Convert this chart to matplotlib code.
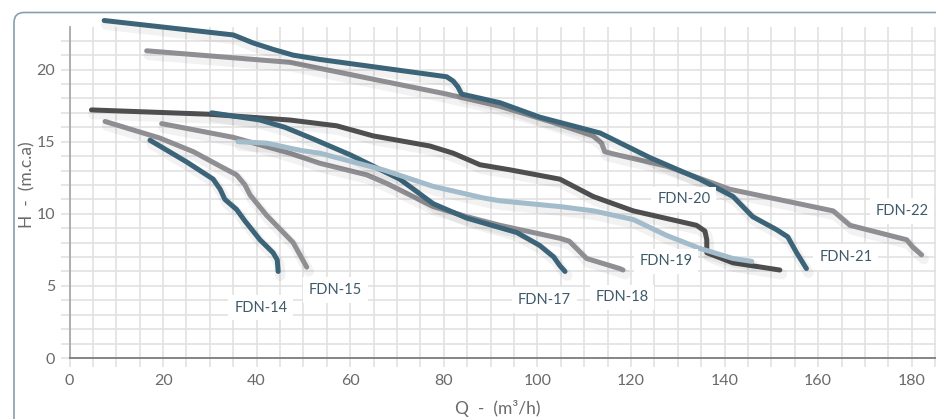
import matplotlib
matplotlib.use("Agg")
import matplotlib.pyplot as plt
from matplotlib import patheffects as pe
from matplotlib.patches import FancyBboxPatch
from matplotlib.transforms import IdentityTransform
from matplotlib.ticker import MultipleLocator

# ---------------- data ----------------
q_fdn14 = [17.2, 25.0, 30.7, 32.2, 33.2, 35.7, 37.5, 40.7, 43.5, 44.4, 44.6]
h_fdn14 = [15.1, 13.6, 12.4, 11.7, 11.0, 10.3, 9.5, 8.2, 7.3, 6.8, 6.0]

q_fdn15 = [7.6, 19.3, 26.5, 32.2, 35.7, 37.5, 38.6, 42.1, 47.8, 50.7]
h_fdn15 = [16.4, 15.25, 14.3, 13.3, 12.7, 12.0, 11.3, 9.9, 8.0, 6.3]

q_fdn17 = [30.4, 40.7, 46.0, 52.0, 59.9, 70.6, 77.7, 84.9, 95.6, 100.5, 103.5, 104.8, 105.9]
h_fdn17 = [17.0, 16.5, 16.0, 15.2, 14.1, 12.4, 10.7, 9.7, 8.7, 7.8, 7.0, 6.4, 6.0]

q_fdn18 = [19.7, 35.0, 47.1, 53.5, 63.5, 67.8, 77.7, 84.9, 92.0, 104.8, 106.8, 110.5, 117.6, 118.3]
h_fdn18 = [16.25, 15.3, 14.2, 13.5, 12.7, 12.1, 10.5, 9.8, 9.2, 8.3, 8.1, 6.9, 6.2, 6.1]

q_fdn19 = [36.0, 42.1, 49.3, 53.5, 67.0, 77.7, 88.4, 92.0, 104.8, 112.0, 120.5, 127.6, 134.7, 141.8, 145.8]
h_fdn19 = [15.0, 14.9, 14.4, 14.2, 13.05, 11.9, 11.1, 10.9, 10.5, 10.2, 9.6, 8.5, 7.6, 6.9, 6.7]

q_fdn20 = [4.7, 30.0, 47.1, 57.1, 64.9, 77.0, 82.0, 87.7, 94.1, 104.8, 111.9, 120.5, 134.0, 135.8, 136.2, 136.2, 141.8, 151.8]
h_fdn20 = [17.2, 16.9, 16.5, 16.1, 15.4, 14.7, 14.2, 13.4, 13.05, 12.4, 11.2, 10.2, 9.2, 8.8, 8.2, 7.3, 6.6, 6.1]

q_fdn21 = [7.4, 35.0, 39.2, 43.5, 47.8, 53.5, 80.6, 82.0, 83.0, 83.8, 92.0, 100.5, 113.4, 124.0, 134.7, 141.8, 146.0, 151.1, 153.5, 155.4, 157.5]
h_fdn21 = [23.4, 22.4, 21.85, 21.4, 21.0, 20.7, 19.5, 19.2, 18.8, 18.3, 17.7, 16.7, 15.6, 13.9, 12.4, 11.2, 9.8, 8.9, 8.4, 7.3, 6.2]

q_fdn22 = [16.5, 47.1, 80.6, 92.0, 102.7, 111.9, 113.7, 114.4, 116.9, 127.6, 141.1, 163.2, 166.8, 178.9, 180.2, 182.1]
h_fdn22 = [21.3, 20.5, 18.3, 17.45, 16.4, 15.4, 14.9, 14.3, 14.1, 13.3, 11.7, 10.2, 9.2, 8.2, 7.7, 7.15]

series_names = ["FDN-14", "FDN-15", "FDN-17", "FDN-18", "FDN-19", "FDN-20", "FDN-21", "FDN-22"]

x_major = [0, 20, 40, 60, 80, 100, 120, 140, 160, 180]
y_major = [0, 5, 10, 15, 20]

# ---------------- styles / positions ----------------
TEAL = "#3b6479"
GRAY = "#8f8f93"
DARK = "#4e4e50"
LIGHT = "#a3bccb"
TXT = "#3e5a68"

curves = {
    "FDN-22": (q_fdn22, h_fdn22, GRAY, 2),
    "FDN-21": (q_fdn21, h_fdn21, TEAL, 3),
    "FDN-20": (q_fdn20, h_fdn20, DARK, 2),
    "FDN-18": (q_fdn18, h_fdn18, GRAY, 3),
    "FDN-17": (q_fdn17, h_fdn17, TEAL, 4),
    "FDN-19": (q_fdn19, h_fdn19, LIGHT, 5),
    "FDN-15": (q_fdn15, h_fdn15, GRAY, 3),
    "FDN-14": (q_fdn14, h_fdn14, TEAL, 3),
}

label_xy = {
    "FDN-14": (40.9, 3.5),
    "FDN-15": (56.8, 4.7),
    "FDN-17": (101.5, 4.0),
    "FDN-18": (118.1, 4.2),
    "FDN-19": (127.5, 6.7),
    "FDN-20": (131.3, 11.0),
    "FDN-21": (165.9, 7.0),
    "FDN-22": (177.9, 10.2),
}

FONT = ["Lato", "DejaVu Sans"]
plt.rcParams["font.family"] = FONT

W, H = 937, 419
fig = plt.figure(figsize=(W / 100, H / 100), dpi=100)
fig.patch.set_facecolor("white")

# rounded frame
frame = FancyBboxPatch((14, -30), 1000, 406.5 + 30, boxstyle="round,pad=0,rounding_size=10",
                       transform=IdentityTransform(), facecolor="none",
                       edgecolor="#86a0ae", linewidth=1.2)
fig.add_artist(frame)

left, right, bottom, top = 69.5, 937, 358, 27
ax = fig.add_axes([left / W, (H - bottom) / H, (right - left) / W, (bottom - top) / H])
ax.set_xlim(0, 185.4)
ax.set_ylim(0, 22.95)

ax.set_xticks(x_major)
ax.set_yticks(y_major)
ax.xaxis.set_minor_locator(MultipleLocator(5))
ax.yaxis.set_minor_locator(MultipleLocator(1))
ax.grid(True, which="both", color="#e2e2e2", linewidth=1.2, zorder=0)
ax.set_axisbelow(True)
ax.tick_params(which="both", length=6.5, width=1.2, color="#e2e2e2",
               labelsize=11.5, labelcolor="#6a6a6a", pad=4)
ax.tick_params(axis="x", which="major", pad=5)

for s in ["top", "right"]:
    ax.spines[s].set_visible(False)
ax.spines["left"].set_color("#a8a8a8")
ax.spines["left"].set_linewidth(1.3)
ax.spines["bottom"].set_color("#7d7d7d")
ax.spines["bottom"].set_linewidth(1.3)

lw = 3.6
for name, (q, h, col, z) in curves.items():
    ax.plot(q, h, color=col, linewidth=lw, solid_capstyle="round", solid_joinstyle="round",
            zorder=z, clip_on=False,
            path_effects=[pe.SimpleLineShadow(offset=(1.5, -3.0), shadow_color="black", alpha=0.05, linewidth=lw + 4),
                          pe.Normal()])

for name in series_names:
    x, y = label_xy[name]
    ax.text(x, y, name, ha="center", va="center", fontsize=10.5, color=TXT, zorder=6,
            bbox=dict(boxstyle="square,pad=0.4", facecolor="white", edgecolor="none"))

fig.text(498 / W, 1 - 408 / H, "Q  -  (m³/h)", ha="center", va="center", fontsize=12.5, color="#6a6a6a")
fig.text(27 / W, 1 - 185 / H, "H  -  (m.c.a)", ha="center", va="center", rotation=90, fontsize=12.5, color="#6a6a6a")

fig.savefig("out.png", dpi=100, facecolor="white")
